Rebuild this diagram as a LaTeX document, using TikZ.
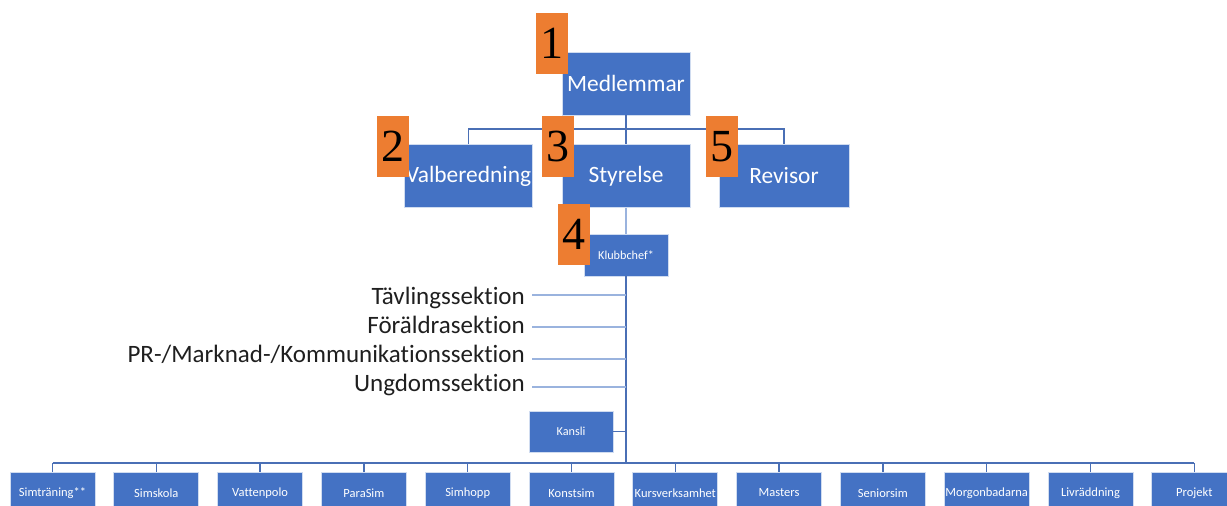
\documentclass[tikz,border=0pt]{standalone}
\usepackage{fontspec}
\setmainfont{Carlito}[Ligatures=NoCommon]
\newfontfamily\numfont{Liberation Serif}
\definecolor{boxblue}{HTML}{4472C4}
\definecolor{lineblue}{HTML}{4A6FB5}
\definecolor{lightline}{HTML}{9AB3DE}
\definecolor{numorange}{HTML}{ED7D31}
\begin{document}
\begin{tikzpicture}[x=1pt,y=-1pt,
  box/.style={draw=white!75!boxblue, line width=0.8pt, fill=boxblue, text=white, inner sep=0pt},
  bigbox/.style={box, minimum width=128, minimum height=63, font=\fontsize{23.4}{27}\selectfont},
  botbox/.style={box, minimum width=85, minimum height=42, font=\fontsize{12.5}{14}\selectfont},
  numbox/.style={fill=numorange, text=black, inner sep=0pt, minimum width=32, minimum height=61, font=\numfont\fontsize{46}{50}\selectfont},
  sect/.style={anchor=base east, text=black!88, inner sep=0pt, font=\fontsize{25}{29}\selectfont},
  conn/.style={draw=lineblue, line width=1.4pt},
  lconn/.style={draw=lightline, line width=1.4pt}]
\useasboundingbox (0,0) rectangle (1227,506);
\clip (0,0) rectangle (1227,506);
\fill[white] (0,0) rectangle (1227,506);
% top level
\node[bigbox] (med) at (626,83.5) {Medlemmar};
\node[bigbox] (val) at (468.5,176) {Valberedning};
\node[bigbox] (sty) at (626,176) {Styrelse};
\node[bigbox, minimum width=130] (rev) at (784,176) {Revisor};
\node[box, minimum width=84, minimum height=42, font=\fontsize{12.2}{14}\selectfont] (kc) at (626,255) {Klubbchef*};
\node[box, minimum width=84, minimum height=41, font=\fontsize{12.2}{14}\selectfont] (kan) at (571,431.5) {Kansli};
\coordinate (hub) at (626,129);
\coordinate (bus) at (626,463);
% connectors top
\draw[conn] (med.south) -- (sty.north);
\draw[conn] (val.north) -- (val.north |- hub) -- (rev.north |- hub) -- (rev.north);
\draw[lightline, line width=1.1pt] (sty.south) -- (kc.north);
\draw[conn] (kc.south) -- (bus);
% sections
\node[sect] (s1) at (525,304) {Tävlingssektion};
\node[sect] (s2) at (525,333) {Föräldrasektion};
\node[sect] (s3) at (525,362) {PR-/Marknad-/Kommunikationssektion};
\node[sect] (s4) at (525,391) {Ungdomssektion};
\foreach \s/\y in {s1/295,s2/327,s3/359,s4/387}{
  \draw[lconn] ([xshift=7pt]\s.east |- 0,\y) -- (kc.south |- 0,\y);
}
\draw[conn] (kan.east) -- (kan.east -| kc.south);
% bottom row
\foreach \i/\t in {0/Simträning**,1/Simskola,2/Vattenpolo,3/ParaSim,4/Simhopp,5/Konstsim,6/Kursverksamhet,7/Masters,8/Seniorsim,9/Morgonbadarna,10/Livräddning,11/Projekt}{
  \node[botbox] (b\i) at ({52.5+\i*103.8},493) {\t};
  \draw[conn] (b\i.north) -- (b\i.north |- bus);
}
\draw[conn] (b0.north |- bus) -- (b11.north |- bus);
% numbers
\node[numbox] (n1) at (552,43) {1};
\node[numbox] (n2) at (393,146.5) {2};
\node[numbox] (n3) at (558,146.5) {3};
\node[numbox] (n5) at (722,146.5) {5};
\node[numbox] (n4) at (574,234.5) {4};
\end{tikzpicture}
\end{document}
